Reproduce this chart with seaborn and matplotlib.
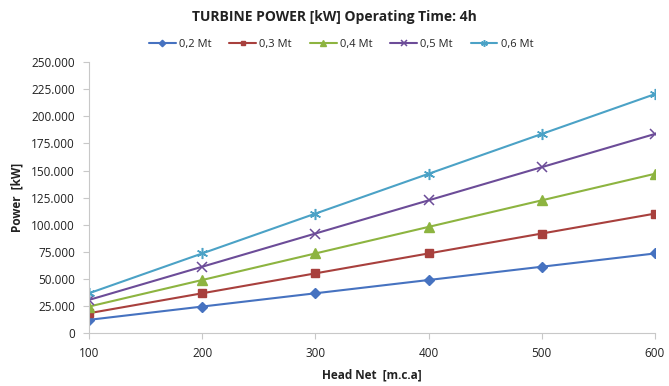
import matplotlib
matplotlib.use("Agg")
import matplotlib.pyplot as plt
import seaborn as sns
import pandas as pd
from matplotlib.ticker import FuncFormatter

head = [100, 200, 300, 400, 500, 600]
series_names = ["0,2 Mt", "0,3 Mt", "0,4 Mt", "0,5 Mt", "0,6 Mt"]
p02 = [12250, 24500, 36750, 49000, 61250, 73500]
p03 = [18375, 36750, 55125, 73500, 91875, 110250]
p04 = [24500, 49000, 73500, 98000, 122500, 147000]
p05 = [30625, 61250, 91875, 122500, 153125, 183750]
p06 = [36750, 73500, 110250, 147000, 183750, 220500]
yticks = [0, 25000, 50000, 75000, 100000, 125000, 150000, 175000, 200000, 225000, 250000]
xticks = [100, 200, 300, 400, 500, 600]

values = [p02, p03, p04, p05, p06]

sns.set_theme(style="white")
plt.rcParams["font.family"] = ["Open Sans", "DejaVu Sans"]

colors = ["#4672C0", "#A8403D", "#8DB440", "#6C4C98", "#4BA2C6"]
markers = ["D", "s", "^", "x", (6, 2, 0)]
msizes = [5.5, 6, 6.5, 7, 8]
mew = [1.0, 1.0, 1.0, 1.1, 1.1]

fig = plt.figure(figsize=(6.69, 3.86), dpi=100)
ax = fig.add_axes([0.133, 0.137, 0.846, 0.702])

for name, vals, c, m, ms, ew in zip(series_names, values, colors, markers, msizes, mew):
    d = pd.DataFrame({"head": head, "power": vals})
    sns.lineplot(data=d, x="head", y="power", ax=ax, color=c, marker=m,
                 markersize=ms, markeredgewidth=ew, markeredgecolor=c,
                 markerfacecolor=c, linewidth=1.5, label=name)

ax.set_xlim(100, 600)
ax.set_ylim(0, 250000)
ax.set_xticks(xticks)
ax.set_yticks(yticks)
ax.yaxis.set_major_formatter(FuncFormatter(lambda v, p: f"{int(v):,}".replace(",", ".")))

for s in ["top", "right"]:
    ax.spines[s].set_visible(False)
for s in ["left", "bottom"]:
    ax.spines[s].set_color("#C8C8C8")
    ax.spines[s].set_linewidth(0.8)
ax.tick_params(axis="both", which="major", length=4, width=0.8, color="#C8C8C8",
               direction="out", labelsize=8.5, labelcolor="#222222", pad=6,
               left=True, bottom=True)

ax.set_xlabel("Head Net  [m.c.a]", fontsize=8.5, fontweight="bold", color="#222222", labelpad=6)
ax.set_ylabel("Power  [kW]", fontsize=8.5, fontweight="bold", color="#222222", labelpad=6)

fig.suptitle("TURBINE POWER [kW] Operating Time: 4h", x=0.5, y=0.975,
             fontsize=10, fontweight="bold", color="#222222")

handles, labels = ax.get_legend_handles_labels()
if ax.legend_ is not None:
    ax.legend_.remove()
fig.legend(handles, labels, loc="center", bbox_to_anchor=(0.51, 0.885), ncol=5,
           frameon=False, fontsize=8, handlelength=2.4, handletextpad=0.3,
           columnspacing=1.6, markerscale=0.6)

fig.savefig("out.png", dpi=100)
